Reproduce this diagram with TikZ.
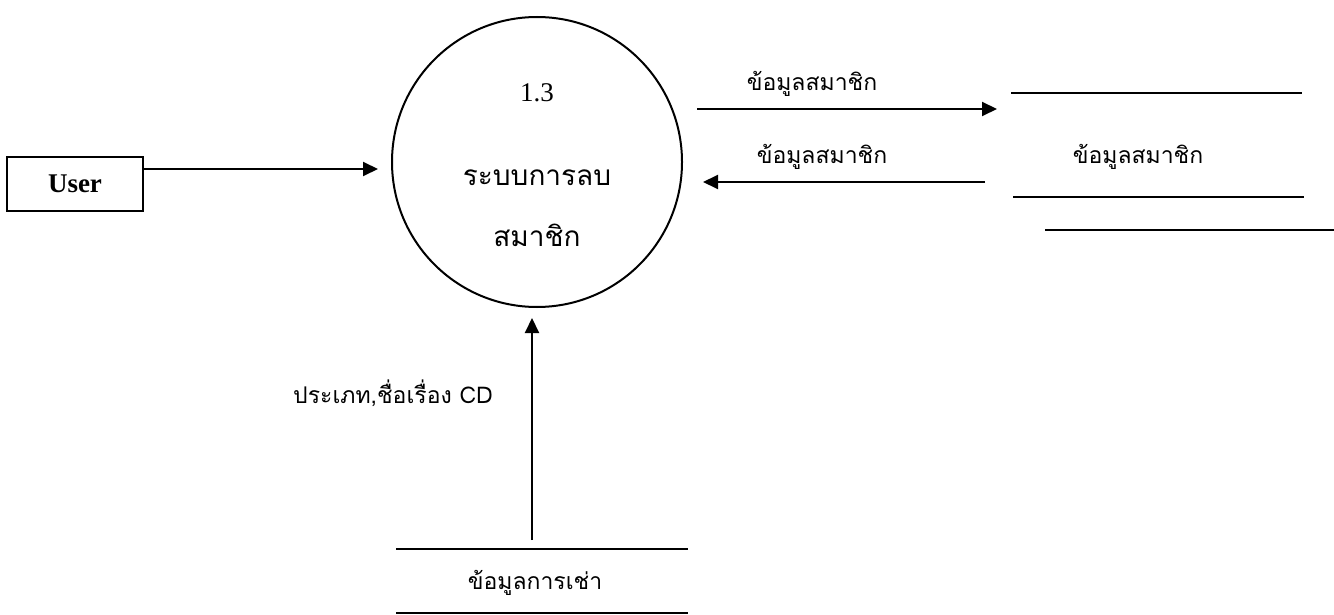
\documentclass[tikz,border=0pt]{standalone}
\usepackage{fontspec}
\setmainfont{Liberation Serif}
\newfontfamily\thaifont[Script=Thai]{Loma}
\usetikzlibrary{arrows.meta, positioning}
\tikzstyle{entity} = [rectangle, draw=black, line width=2pt, minimum width=136pt, minimum height=54pt, font=\fontsize{27}{30}\selectfont\bfseries]
\tikzstyle{process} = [circle, draw=black, line width=2pt, minimum size=290pt, inner sep=0pt]
\tikzstyle{proctext} = [font=\thaifont\fontsize{28}{32}\selectfont, inner sep=0pt]
\tikzstyle{flowlabel} = [font=\thaifont\fontsize{23}{27}\selectfont, inner sep=0pt]
\tikzstyle{storeline} = [line width=2pt]
\tikzstyle{arrow} = [line width=2pt, -{Triangle[length=15pt,width=14pt]}]

\begin{document}
\begin{tikzpicture}[x=1pt, y=-1pt]
    \useasboundingbox (0,0) rectangle (1334,615);
    \node (user) [entity] at (75,184) {User};
    \node (process) [process] at (537,162) {};
    \node (procnum) [inner sep=0pt, font=\fontsize{27}{30}\selectfont] at (537,93) {1.3};
    \node (procname) [proctext] at (537,178) {ระบบการลบ};
    \node (procname2) [proctext] at (537,235) {สมาชิก};

    % data store: member data
    \node (member_store) [flowlabel] at (1138,157) {ข้อมูลสมาชิก};
    \draw [storeline] (1011,93) -- (1302,93);
    \draw [storeline] (1013,197) -- (1304,197);
    \draw [storeline] (1045,230) -- (1334,230);

    % data store: rental data
    \node (rent_store) [flowlabel] at (535,583) {ข้อมูลการเช่า};
    \draw [storeline] (396,549) -- (688,549);
    \draw [storeline] (396,613) -- (688,613);

    \coordinate (user_in) at (378,169);
    \coordinate (member_out) at (697,109);
    \coordinate (member_tip) at (997,109);
    \coordinate (member_back) at (985,182);
    \coordinate (member_in) at (703,182);
    \coordinate (rent_out) at (532,540);
    \coordinate (rent_in) at (532,318);

    \draw [arrow] (user.east |- user_in) -- (user_in);
    \draw [arrow] (member_out) -- (member_tip);
    \draw [arrow] (member_back) -- (member_in);
    \draw [arrow] (rent_out) -- (rent_in);

    \node (write_label) [flowlabel] at (812,84) {ข้อมูลสมาชิก};
    \node (read_label) [flowlabel] at (822,157) {ข้อมูลสมาชิก};
    \node (rent_label) [flowlabel] at (393,393) {ประเภท,ชื่อเรื่อง CD};
\end{tikzpicture}
\end{document}
